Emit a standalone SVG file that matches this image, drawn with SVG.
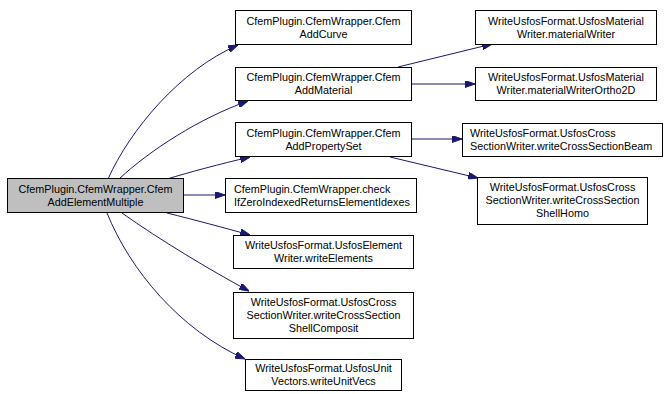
<svg xmlns="http://www.w3.org/2000/svg" width="667" height="394" viewBox="0 0 667 394">
<style>
.n rect{fill:#ffffff;stroke:#000000;stroke-width:1}
.n.main rect{fill:#bfbfbf}
text{font-family:"Liberation Sans",Arial,Helvetica,sans-serif;font-size:10.8px;fill:#000000}
.c{text-anchor:middle}
.l{text-anchor:start}
.e path{fill:none;stroke:#191970;stroke-width:1;marker-end:url(#arr)}
</style>
<defs>
<marker id="arr" markerUnits="userSpaceOnUse" viewBox="0 0 10 7" markerWidth="10" markerHeight="7" refX="10" refY="3.5" orient="auto">
<path d="M0,0 L10,3.5 L0,7 z" fill="#191970" stroke="#191970" stroke-width="1"/>
</marker>
</defs>
<rect width="667" height="394" fill="#ffffff"/>
<g id="edges" class="e">
<path d="M108,179 C130,130 180,70 238,45"/>
<path d="M119,179 C150,150 200,118 248,101"/>
<path d="M167,179 C190,172 220,164 250,157"/>
<path d="M184,195 L225,195"/>
<path d="M167,213 C195,220 225,228 250,235"/>
<path d="M122,213 C160,240 210,270 249,291"/>
<path d="M107,213 C130,270 180,330 245,359"/>
<path d="M398,67 L492,44"/>
<path d="M412,84 L475,84"/>
<path d="M412,139 L462,139"/>
<path d="M390,157 L478,178"/>
</g>
<g id="node-main" class="n main">
<rect x="7.5" y="178.5" width="176" height="34"/>
<text class="c" x="95.5" y="193">CfemPlugin.CfemWrapper.Cfem</text>
<text class="c" x="95.5" y="206">AddElementMultiple</text>
</g>
<g id="node-addcurve" class="n">
<rect x="235.5" y="10.5" width="176" height="34"/>
<text class="c" x="323.5" y="25">CfemPlugin.CfemWrapper.Cfem</text>
<text class="c" x="323.5" y="38">AddCurve</text>
</g>
<g id="node-addmaterial" class="n">
<rect x="235.5" y="67.5" width="176" height="33"/>
<text class="c" x="323.5" y="81">CfemPlugin.CfemWrapper.Cfem</text>
<text class="c" x="323.5" y="94">AddMaterial</text>
</g>
<g id="node-addpropertyset" class="n">
<rect x="235.5" y="122.5" width="176" height="34"/>
<text class="c" x="323.5" y="137">CfemPlugin.CfemWrapper.Cfem</text>
<text class="c" x="323.5" y="150">AddPropertySet</text>
</g>
<g id="node-checkifzero" class="n">
<rect x="225.5" y="178.5" width="191" height="34"/>
<text class="l" x="234" y="193">CfemPlugin.CfemWrapper.check</text>
<text class="l" x="234" y="206">IfZeroIndexedReturnsElementIdexes</text>
</g>
<g id="node-writeelements" class="n">
<rect x="233.5" y="235.5" width="180" height="33"/>
<text class="c" x="323.5" y="249">WriteUsfosFormat.UsfosElement</text>
<text class="c" x="323.5" y="262">Writer.writeElements</text>
</g>
<g id="node-shellcomposit" class="n">
<rect x="233.5" y="292.5" width="180" height="46"/>
<text class="c" x="323.5" y="306">WriteUsfosFormat.UsfosCross</text>
<text class="c" x="323.5" y="319">SectionWriter.writeCrossSection</text>
<text class="c" x="323.5" y="332">ShellComposit</text>
</g>
<g id="node-unitvecs" class="n">
<rect x="245.5" y="359.5" width="156" height="31"/>
<text class="c" x="323.5" y="372">WriteUsfosFormat.UsfosUnit</text>
<text class="c" x="323.5" y="385">Vectors.writeUnitVecs</text>
</g>
<g id="node-materialwriter" class="n">
<rect x="475.5" y="10.5" width="181" height="34"/>
<text class="c" x="566" y="25">WriteUsfosFormat.UsfosMaterial</text>
<text class="c" x="566" y="38">Writer.materialWriter</text>
</g>
<g id="node-materialwriterortho2d" class="n">
<rect x="475.5" y="67.5" width="181" height="33"/>
<text class="c" x="566" y="81">WriteUsfosFormat.UsfosMaterial</text>
<text class="c" x="566" y="94">Writer.materialWriterOrtho2D</text>
</g>
<g id="node-crosssectionbeam" class="n">
<rect x="462.5" y="123.5" width="200" height="33"/>
<text class="l" x="470" y="137">WriteUsfosFormat.UsfosCross</text>
<text class="l" x="470" y="150">SectionWriter.writeCrossSectionBeam</text>
</g>
<g id="node-shellhomo" class="n">
<rect x="477.5" y="177.5" width="170" height="47"/>
<text class="c" x="562.5" y="191">WriteUsfosFormat.UsfosCross</text>
<text class="c" x="562.5" y="204">SectionWriter.writeCrossSection</text>
<text class="c" x="562.5" y="217">ShellHomo</text>
</g>
</svg>
